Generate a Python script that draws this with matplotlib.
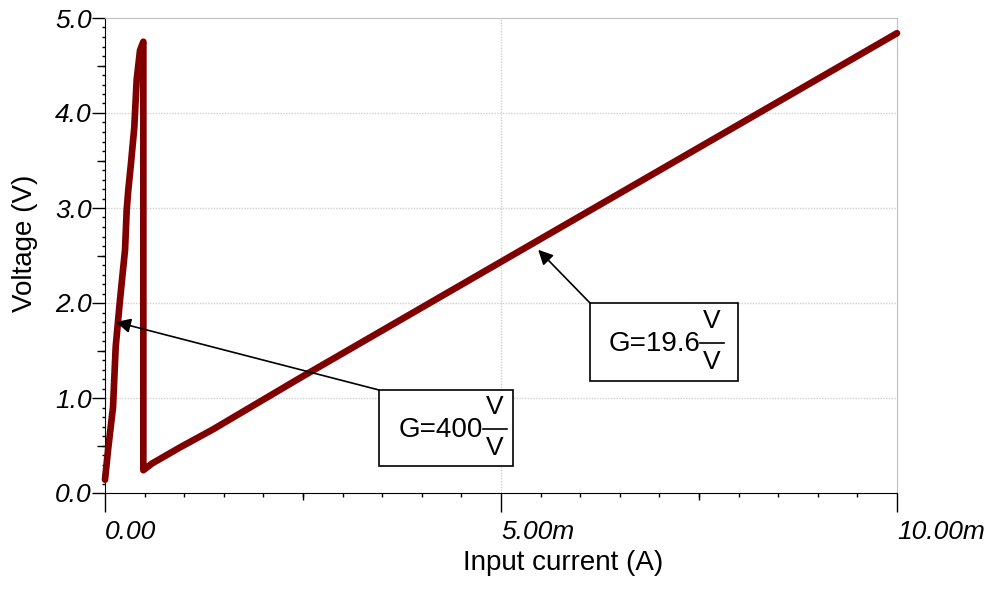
import numpy as np
import matplotlib
matplotlib.use("Agg")
import matplotlib.pyplot as plt
from matplotlib.patches import Rectangle
from matplotlib.lines import Line2D

plt.rcParams['font.family'] = ['Liberation Sans', 'DejaVu Sans']

# input current in mA, output voltage in V
current_ma = [0.0, 0.042, 0.101, 0.135, 0.189, 0.253, 0.274, 0.294, 0.328, 0.370,
              0.400, 0.442, 0.484, 0.484, 0.593, 0.947, 1.364, 2.46, 5.47, 10.0]
voltage = [0.14, 0.48, 0.90, 1.54, 2.03, 2.56, 2.98, 3.19, 3.47, 3.85,
           4.35, 4.66, 4.75, 0.24, 0.31, 0.48, 0.67, 1.21, 2.66, 4.84]

xticks = [0.0, 0.005, 0.010]
xticklabels = ["0.00", "5.00m", "10.00m"]
yticks = [0, 1, 2, 3, 4, 5]
yticklabels = ["0.0", "1.0", "2.0", "3.0", "4.0", "5.0"]

gain_labels = ["G=400", "G=19.6"]
arrow_x = [0.000139, 0.00547]
arrow_y = [1.80, 2.56]

W, H = 990, 589
fig = plt.figure(figsize=(W / 100, H / 100), dpi=100)
ax = fig.add_axes([105 / W, 1 - 493 / H, 792 / W, 475 / H])

x = np.array(current_ma) * 1e-3
ax.plot(x, voltage, color='#800000', lw=4.8, solid_capstyle='round',
        solid_joinstyle='round', clip_on=False, zorder=3)

ax.set_xlim(0, 0.010)
ax.set_ylim(0, 5)

ax.set_xticks(xticks)
ax.set_xticklabels(xticklabels, fontsize=19, style='italic')
for lab in ax.get_xticklabels():
    lab.set_horizontalalignment('left')
ax.set_yticks(yticks)
ax.set_yticklabels(yticklabels, fontsize=19, style='italic')

ax.set_xticks(np.arange(0, 0.0101, 0.0005), minor=True)
ax.set_yticks(np.arange(0, 5.01, 0.1), minor=True)
ax.tick_params(axis='x', which='major', length=13.7, width=1, pad=6)
ax.tick_params(axis='x', which='minor', length=2.9, width=1)
ax.tick_params(axis='y', which='major', length=9.4, width=1, pad=0)
ax.tick_params(axis='y', which='minor', length=2.2, width=1)

# medium ticks at the half divisions
ax.plot([0.0025, 0.0075], [0, 0], transform=ax.get_xaxis_transform(), ls='none',
        marker=3, ms=5, mew=1, color='black', clip_on=False)
ax.plot(np.zeros(5), [0.5, 1.5, 2.5, 3.5, 4.5], transform=ax.get_yaxis_transform(),
        ls='none', marker=0, ms=5.8, mew=1, color='black', clip_on=False)

for yv in [1, 2, 3, 4]:
    ax.axhline(yv, color='#d0d0d0', lw=1, ls=(0, (1, 1)), zorder=0)
ax.axvline(0.005, color='#d0d0d0', lw=1, ls=(0, (1, 1)), zorder=0)

for side in ['top', 'right']:
    ax.spines[side].set_color('#c0c0c0')
for side in ['left', 'bottom']:
    ax.spines[side].set_color('black')

ax.set_xlabel("Input current (A)", fontsize=20)
ax.set_ylabel("Voltage (V)", fontsize=20)
ax.xaxis.set_label_coords(0.578, -0.12)
ax.yaxis.set_label_coords(-0.085, 0.526)


def px(xp, yp):
    return (xp / W, 1 - yp / H)


# label boxes in pixel layout: box left, top, right, bottom, fraction bar x, text centre y
boxes = [(379, 390, 513, 466, 483, 429), (590, 303, 738, 381, 700, 343)]

for i, (l, t, r, b, fx, cy) in enumerate(boxes):
    x0, y0 = px(l, b)
    x1, y1 = px(r, t)
    fig.add_artist(Rectangle((x0, y0), x1 - x0, y1 - y0, transform=fig.transFigure,
                             fc='white', ec='black', lw=1.2, zorder=5))
    fig.text(*px(fx, cy + 1), gain_labels[i], fontsize=20, ha='right', va='center',
             zorder=6)
    fig.add_artist(Line2D([fx / W, (fx + 24) / W], [1 - cy / H] * 2,
                          transform=fig.transFigure, color='black', lw=1.2, zorder=6))
    fig.text(*px(fx + 12, cy - 22), "V", fontsize=19, ha='center', va='center', zorder=6)
    fig.text(*px(fx + 12, cy + 19), "V", fontsize=19, ha='center', va='center', zorder=6)
    ax.annotate("", xy=(arrow_x[i], arrow_y[i]), xytext=px(l, t),
                textcoords='figure fraction',
                arrowprops=dict(arrowstyle='-|>', color='black', lw=1.2,
                                mutation_scale=22, shrinkA=0, shrinkB=0),
                zorder=4)

fig.savefig("out.png", dpi=100)
